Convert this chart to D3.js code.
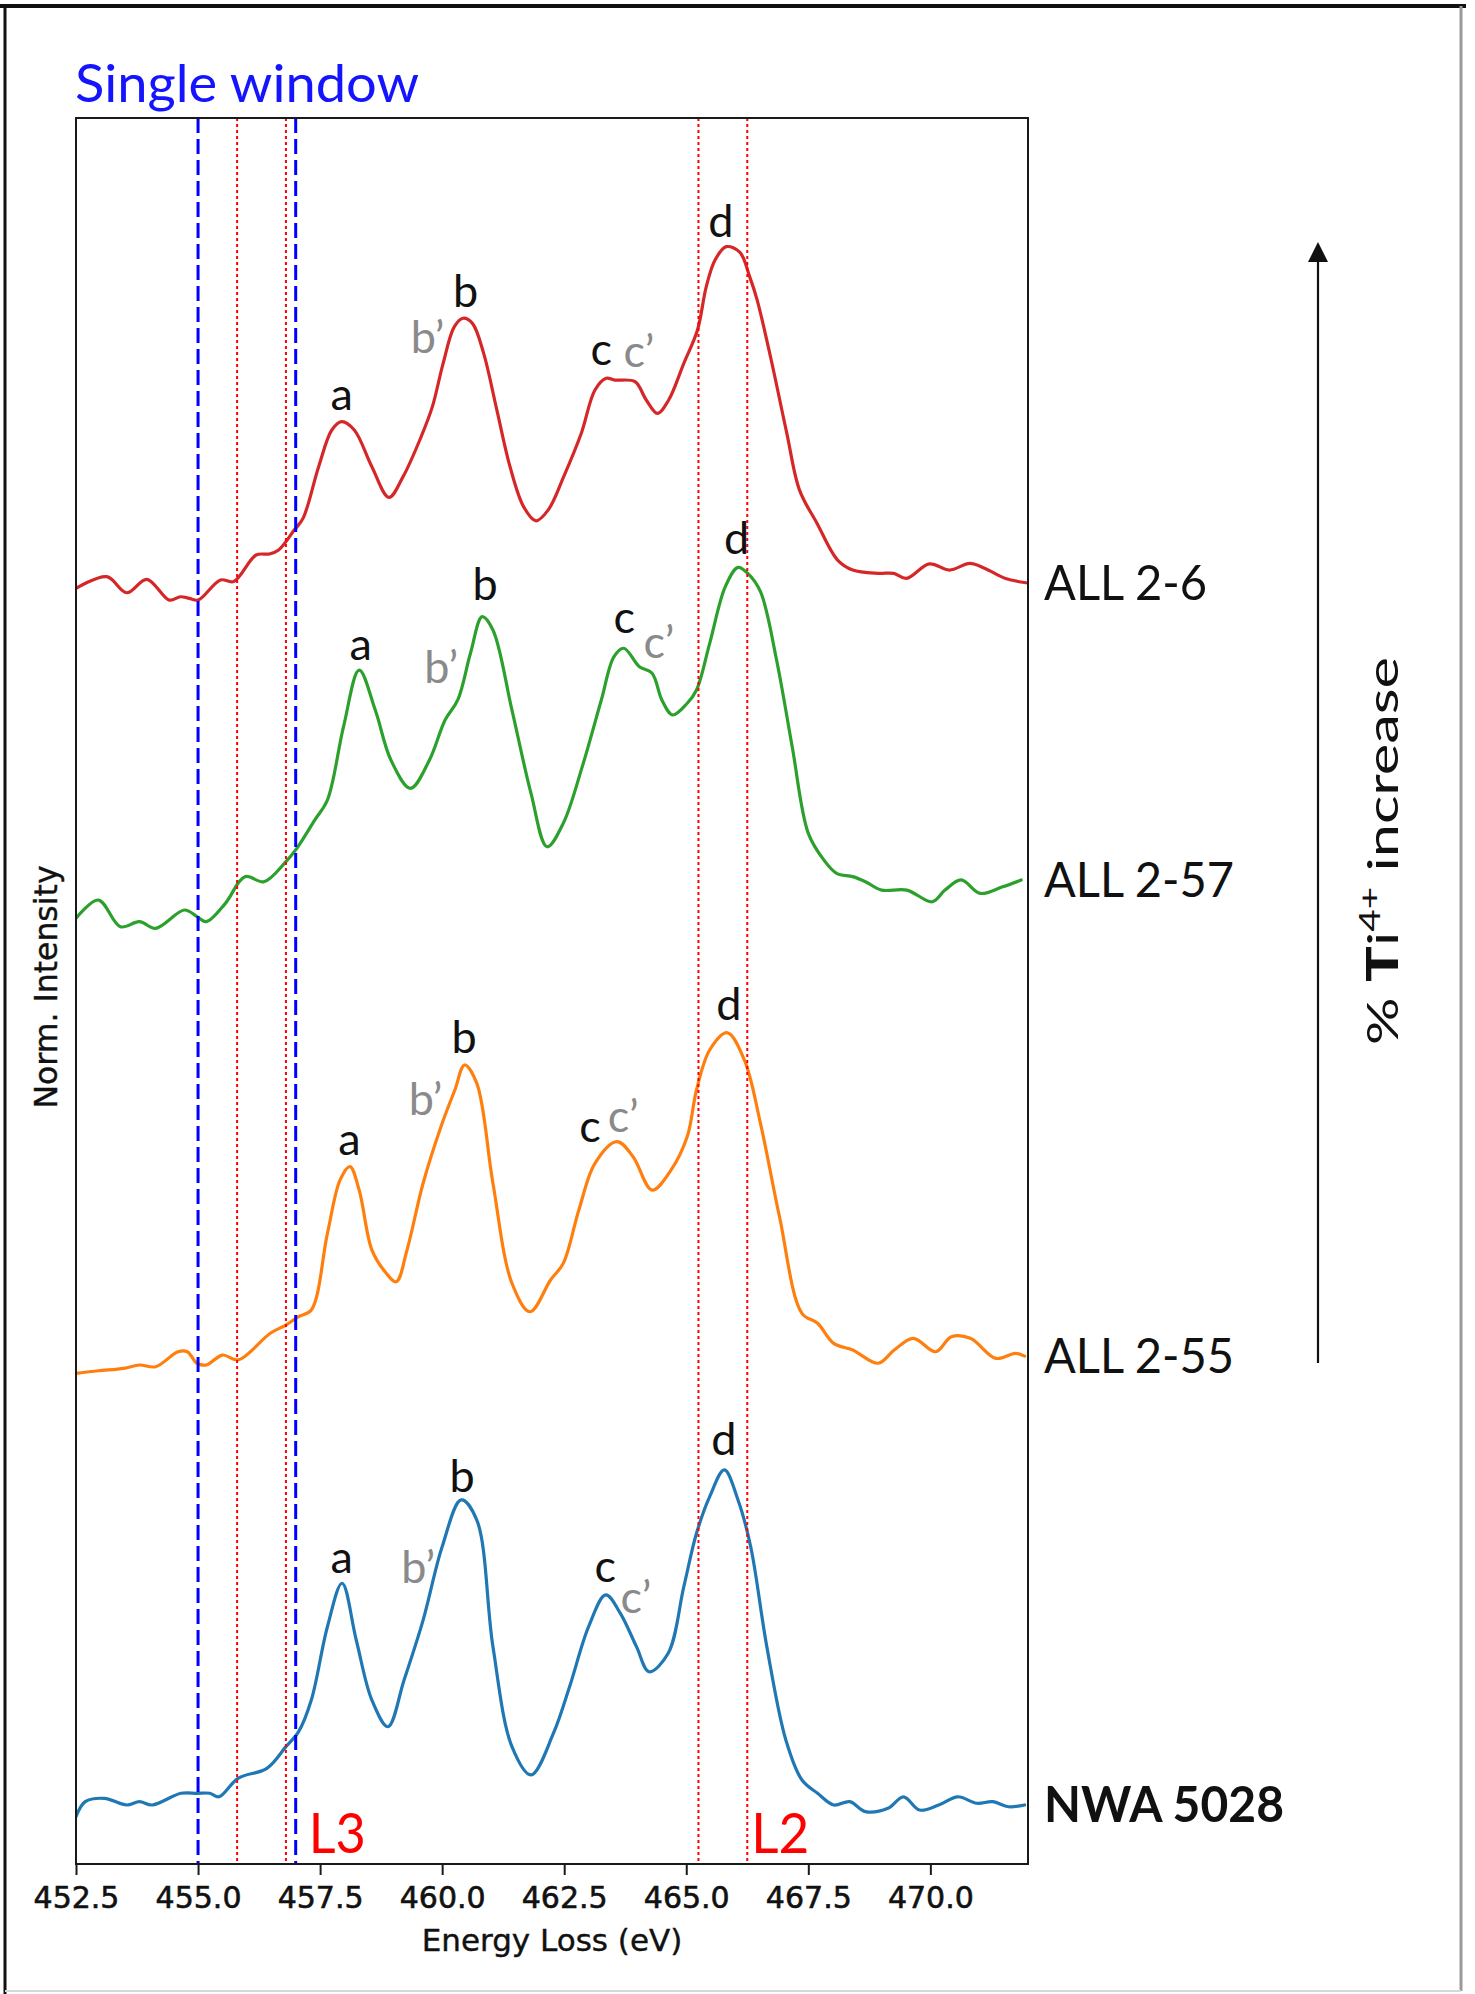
<!DOCTYPE html>
<html>
<head>
<meta charset="utf-8">
<script src="https://cdn.jsdelivr.net/npm/d3@7"></script>
<style>
  html, body { margin: 0; padding: 0; background: #fff; }
  svg { display: block; }
</style>
</head>
<body>
<svg id="chart" width="1475" height="1994"></svg>
<script>
// ---- Ti L2,3-edge EELS spectra (energy in eV, normalised intensity, stacked) ----
const energyTicks = [452.5, 455.0, 457.5, 460.0, 462.5, 465.0, 467.5, 470.0];
const sampleNames = ["ALL 2-6", "ALL 2-57", "ALL 2-55", "NWA 5028"];

const all2_6 = [
  [452.50,73.06],[453.13,73.73],[453.54,72.81],[453.95,73.58],[454.41,72.39],[454.64,72.58],
  [454.82,72.49],[455.00,72.39],[455.46,73.54],[455.73,73.45],[456.19,74.97],[456.46,75.03],
  [456.65,75.26],[456.97,76.40],[457.15,77.07],[457.47,80.03],[457.74,82.13],[457.94,82.61],
  [458.20,82.13],[458.56,80.03],[458.91,78.27],[459.20,79.46],[459.57,81.75],[459.80,83.47],
  [460.02,85.95],[460.25,88.05],[460.43,88.53],[460.62,88.24],[460.85,86.52],[461.12,83.28],
  [461.39,80.03],[461.67,77.73],[461.92,76.93],[462.17,77.54],[462.49,79.46],[462.85,81.94],
  [463.13,84.42],[463.36,85.09],[463.54,84.99],[463.95,84.90],[464.18,83.85],[464.41,83.08],
  [464.64,83.85],[464.95,85.95],[465.23,87.86],[465.41,90.34],[465.59,91.87],[465.82,92.63],
  [466.10,92.30],[466.30,90.90],[466.45,89.60],[466.74,86.14],[467.06,81.94],[467.32,78.69],
  [467.68,76.78],[468.10,74.68],[468.41,74.11],[468.93,73.92],[469.25,73.92],[469.51,73.63],
  [469.98,74.46],[470.39,74.11],[470.81,74.49],[471.12,74.20],[471.54,73.63],[471.96,73.38]
];

const all2_57 = [
  [452.50,54.16],[452.96,55.21],[453.41,53.68],[453.80,53.97],[454.13,53.59],[454.72,54.64],
  [454.98,54.26],[455.17,53.97],[455.56,55.02],[455.96,56.55],[456.35,56.26],[456.80,57.41],
  [457.00,58.08],[457.39,59.79],[457.65,60.94],[457.98,65.14],[458.30,68.38],[458.63,66.09],
  [458.95,63.23],[459.35,61.61],[459.74,63.23],[460.06,65.52],[460.32,66.67],[460.58,69.34],
  [460.82,71.44],[461.04,70.68],[461.43,66.09],[461.82,61.32],[462.15,58.26],[462.48,59.60],
  [462.87,62.85],[463.26,66.67],[463.52,69.15],[463.72,69.63],[464.04,68.57],[464.30,68.20],
  [464.50,66.67],[464.72,65.81],[465.02,66.48],[465.21,67.24],[465.48,69.91],[465.80,73.16],
  [466.06,74.26],[466.26,73.92],[466.52,72.87],[466.85,68.96],[467.17,63.99],[467.50,59.03],
  [467.82,57.50],[468.08,56.74],[468.41,56.55],[468.67,56.26],[469.00,55.78],[469.52,55.78],
  [470.04,55.11],[470.30,55.78],[470.63,56.36],[471.02,55.59],[471.48,55.97],[471.86,56.36]
];

const all2_55 = [
  [452.50,28.10],[452.96,28.25],[453.48,28.39],[453.80,28.58],[454.13,28.48],[454.59,29.34],
  [454.78,29.34],[454.98,28.68],[455.17,28.58],[455.50,29.15],[455.82,28.87],[456.48,30.40],
  [456.80,30.87],[457.06,31.35],[457.32,31.73],[457.65,36.12],[457.91,39.18],[458.11,39.94],
  [458.30,38.60],[458.56,35.17],[458.83,33.92],[459.06,33.35],[459.28,35.17],[459.61,38.99],
  [460.00,42.42],[460.26,44.33],[460.46,45.76],[460.71,44.71],[461.04,38.99],[461.43,33.26],
  [461.80,31.63],[462.22,33.45],[462.48,34.40],[462.80,37.46],[463.13,40.13],[463.58,41.37],
  [463.91,40.51],[464.30,38.60],[464.69,39.75],[465.02,41.66],[465.21,44.33],[465.48,46.62],
  [465.84,47.61],[466.19,46.05],[466.52,42.42],[466.91,37.07],[467.37,31.54],[467.69,30.97],
  [468.02,29.82],[468.41,29.44],[468.93,28.68],[469.26,29.44],[469.65,30.11],[470.11,29.34],
  [470.43,30.20],[470.82,30.11],[471.34,28.96],[471.74,29.25],[471.93,29.09]
];

const nwa5028 = [
  [452.50,2.71],[452.69,3.57],[453.08,3.76],[453.54,3.38],[453.80,3.57],[454.06,3.38],
  [454.65,4.05],[454.98,4.05],[455.24,4.05],[455.43,3.85],[455.82,4.91],[456.41,5.48],
  [456.80,6.72],[457.06,7.58],[457.32,9.39],[457.65,13.59],[457.95,16.08],[458.24,12.83],
  [458.56,9.39],[458.89,7.86],[459.22,10.54],[459.61,13.97],[460.00,18.17],[460.39,20.85],
  [460.71,19.70],[461.04,12.45],[461.43,6.72],[461.82,5.10],[462.28,7.49],[462.61,10.15],
  [463.00,13.59],[463.35,15.41],[463.65,14.36],[463.98,12.45],[464.24,11.01],[464.63,12.07],
  [464.95,15.88],[465.21,18.94],[465.48,21.04],[465.78,22.57],[466.06,20.85],[466.32,18.17],
  [466.65,12.45],[467.04,7.10],[467.37,4.81],[467.69,4.05],[468.02,3.38],[468.35,3.57],
  [468.67,3.00],[469.13,3.19],[469.45,3.85],[469.78,3.09],[470.17,3.38],[470.56,3.85],
  [470.95,3.48],[471.28,3.57],[471.60,3.28],[471.93,3.38]
];

// peak labels: text and the (energy, intensity) point each one is anchored at
const peakNames = ["a", "b\u2019", "b", "c", "c\u2019", "d"];
const peaksAll2_6  = [[457.94,83.28],[459.70,86.54],[460.48,89.17],[463.26,85.85],[464.03,85.74],[465.71,93.19]];
const peaksAll2_57 = [[458.33,68.96],[459.98,67.64],[460.88,72.39],[463.73,70.50],[464.44,69.07],[466.03,75.03]];
const peaksAll2_55 = [[458.10,40.61],[459.66,42.90],[460.45,46.43],[463.03,41.37],[463.71,41.94],[465.87,48.34]];
const peaksNwa5028 = [[457.94,16.65],[459.51,16.08],[460.41,21.32],[463.34,16.17],[463.97,14.36],[465.77,23.43]];

// integration windows
const singleWindow = [455.0, 457.0];
const edgeWindows = [455.8, 456.8, 465.25, 466.25];

// ---- layout ----
const svg = d3.select("#chart");
const W = 1475, H = 1994;
const plot = { left: 76, right: 1028, top: 118, bottom: 1864 };

const x = d3.scaleLinear().domain([452.5, 472.0]).range([plot.left, plot.right]);
const y = d3.scaleLinear().domain([0, 100]).range([plot.bottom, plot.top]);

const calibriLike = "Lato, 'Open Sans', sans-serif";
const mplFont = "'DejaVu Sans', sans-serif";

// outer frame of the figure panel
svg.append("rect").attr("x", 0).attr("y", 0).attr("width", W).attr("height", H).attr("fill", "#fff");
svg.append("line").attr("x1", 0).attr("x2", 1466).attr("y1", 6).attr("y2", 6)
  .attr("stroke", "#111").attr("stroke-width", 4);
svg.append("line").attr("x1", 5).attr("x2", 5).attr("y1", 6).attr("y2", H)
  .attr("stroke", "#111").attr("stroke-width", 3);
svg.append("line").attr("x1", 1461).attr("x2", 1461).attr("y1", 6).attr("y2", 1991)
  .attr("stroke", "#9a9a9a").attr("stroke-width", 3);
svg.append("line").attr("x1", 5).attr("x2", 1461).attr("y1", 1991).attr("y2", 1991)
  .attr("stroke", "#d8d8d8").attr("stroke-width", 2);

// clip for the plotting area
svg.append("defs").append("clipPath").attr("id", "plotClip")
  .append("rect").attr("x", plot.left).attr("y", plot.top)
  .attr("width", plot.right - plot.left).attr("height", plot.bottom - plot.top);

const series = [
  { name: sampleNames[0], data: all2_6,  peaks: peaksAll2_6,  color: "#d62728", bold: false },
  { name: sampleNames[1], data: all2_57, peaks: peaksAll2_57, color: "#2ca02c", bold: false },
  { name: sampleNames[2], data: all2_55, peaks: peaksAll2_55, color: "#ff7f0e", bold: false },
  { name: sampleNames[3], data: nwa5028, peaks: peaksNwa5028, color: "#1f77b4", bold: true }
];

const line = d3.line()
  .x(d => x(d[0]))
  .y(d => y(d[1]))
  .curve(d3.curveCatmullRom.alpha(0.5));

const gPlot = svg.append("g").attr("clip-path", "url(#plotClip)");

// spectra
gPlot.selectAll("path.spectrum")
  .data(series)
  .join("path")
  .attr("class", "spectrum")
  .attr("d", d => line(d.data))
  .attr("fill", "none")
  .attr("stroke", d => d.color)
  .attr("stroke-width", 3.2)
  .attr("stroke-linejoin", "round")
  .attr("stroke-linecap", "round");

// window markers drawn over the spectra
gPlot.selectAll("line.edge")
  .data(edgeWindows)
  .join("line")
  .attr("class", "edge")
  .attr("x1", d => x(d)).attr("x2", d => x(d))
  .attr("y1", plot.top).attr("y2", plot.bottom)
  .attr("stroke", "#ff0000")
  .attr("stroke-width", 2)
  .attr("stroke-dasharray", "3,3");

gPlot.selectAll("line.single")
  .data(singleWindow)
  .join("line")
  .attr("class", "single")
  .attr("x1", d => x(d)).attr("x2", d => x(d))
  .attr("y1", plot.top).attr("y2", plot.bottom)
  .attr("stroke", "#0000ff")
  .attr("stroke-width", 3)
  .attr("stroke-dasharray", "15,6");

// peak letters
series.forEach(s => {
  svg.append("g").selectAll("text")
    .data(s.peaks.map((p, i) => ({ p, t: peakNames[i] })))
    .join("text")
    .attr("x", d => x(d.p[0]))
    .attr("y", d => y(d.p[1]))
    .attr("text-anchor", "middle")
    .attr("font-family", calibriLike)
    .attr("font-size", 45)
    .attr("fill", d => d.t.length > 1 ? "#8a8a8a" : "#111")
    .text(d => d.t);
});

// axes frame
svg.append("rect")
  .attr("x", plot.left).attr("y", plot.top)
  .attr("width", plot.right - plot.left).attr("height", plot.bottom - plot.top)
  .attr("fill", "none").attr("stroke", "#1a1a1a").attr("stroke-width", 2);

// x axis
const xAxis = d3.axisBottom(x)
  .tickValues(energyTicks)
  .tickFormat(d3.format(".1f"))
  .tickSize(11)
  .tickPadding(12);

const gx = svg.append("g")
  .attr("transform", `translate(0,${plot.bottom})`)
  .call(xAxis);
gx.select(".domain").remove();
gx.selectAll(".tick line").attr("stroke", "#1a1a1a").attr("stroke-width", 2);
gx.selectAll(".tick text")
  .attr("font-family", mplFont)
  .attr("font-size", 30)
  .attr("fill", "#111")
  .attr("stroke", "#111")
  .attr("stroke-width", 0.6);

svg.append("text")
  .attr("x", (plot.left + plot.right) / 2)
  .attr("y", 1951)
  .attr("text-anchor", "middle")
  .attr("font-family", mplFont)
  .attr("font-size", 31)
  .attr("fill", "#111")
  .attr("stroke", "#111")
  .attr("stroke-width", 0.4)
  .text("Energy Loss (eV)");

svg.append("text")
  .attr("transform", `translate(57,987) rotate(-90)`)
  .attr("text-anchor", "middle")
  .attr("font-family", mplFont)
  .attr("font-size", 31.5)
  .attr("fill", "#111")
  .attr("stroke", "#111")
  .attr("stroke-width", 0.4)
  .text("Norm. Intensity");

// sample names at the right-hand end of each spectrum
const nameWidths = { "ALL 2-6": 163, "ALL 2-57": 190, "ALL 2-55": 190, "NWA 5028": 240 };
svg.selectAll("text.sample")
  .data(series)
  .join("text")
  .attr("class", "sample")
  .attr("x", 1044)
  .attr("y", d => y(d.data[d.data.length - 1][1]) + 17)
  .attr("font-family", calibriLike)
  .attr("font-size", 49)
  .attr("font-weight", d => d.bold ? 700 : 400)
  .attr("fill", "#111")
  .attr("textLength", d => nameWidths[d.name])
  .attr("lengthAdjust", "spacingAndGlyphs")
  .text(d => d.name);

// title
svg.append("text")
  .attr("x", 75).attr("y", 102)
  .attr("font-family", calibriLike)
  .attr("font-size", 52)
  .attr("fill", "#1414ff")
  .attr("textLength", 344)
  .attr("lengthAdjust", "spacingAndGlyphs")
  .text("Single window");

// edge labels
[["L3", singleWindow[1], 13, 57], ["L2", edgeWindows[3], 4, 58]].forEach(([t, e, dx, w]) => {
  svg.append("text")
    .attr("x", x(e) + dx).attr("y", 1853)
    .attr("font-family", calibriLike)
    .attr("font-size", 56)
    .attr("fill", "#ff0000")
    .attr("textLength", w)
    .attr("lengthAdjust", "spacingAndGlyphs")
    .text(t);
});

// Ti4+ trend arrow
svg.append("line")
  .attr("x1", 1318).attr("x2", 1318)
  .attr("y1", 1363).attr("y2", 262)
  .attr("stroke", "#111").attr("stroke-width", 2.2);
svg.append("path")
  .attr("d", "M1308,262 L1318,242 L1328,262 Z")
  .attr("fill", "#111");

const trend = svg.append("text")
  .attr("text-anchor", "middle")
  .attr("font-family", calibriLike)
  .attr("font-size", 43)
  .attr("fill", "#111");
trend.append("tspan").text("% ");
trend.append("tspan").attr("font-weight", 900).text("T");
trend.append("tspan").text("i");
trend.append("tspan").attr("font-size", 28).attr("dy", -18).text("4+");
trend.append("tspan").attr("dy", 18).text(" increase");
const natural = trend.node().getComputedTextLength();
trend.attr("transform", `translate(1398,851) rotate(-90) scale(${388 / natural},1)`);
</script>
</body>
</html>
